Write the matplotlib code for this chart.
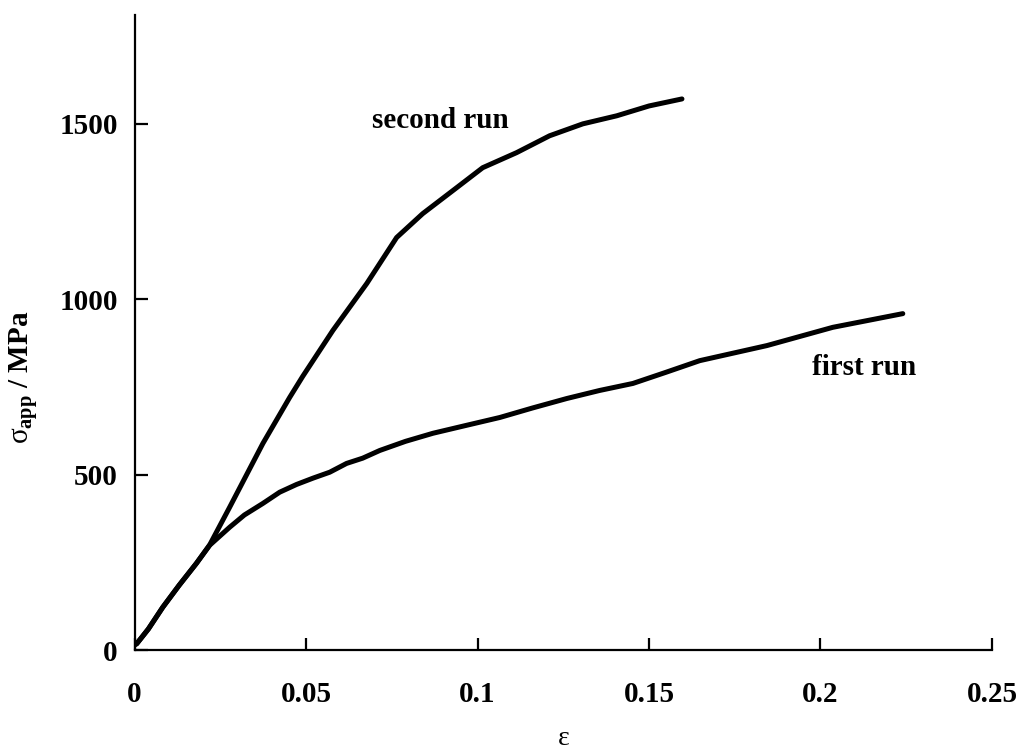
import numpy as np
import matplotlib
matplotlib.use("Agg")
import matplotlib.pyplot as plt

plt.rcParams["font.family"] = ["Liberation Serif", "DejaVu Serif"]
plt.rcParams["mathtext.fontset"] = "custom"
plt.rcParams["mathtext.rm"] = "Liberation Serif"
plt.rcParams["mathtext.it"] = "Liberation Serif"
plt.rcParams["mathtext.bf"] = "Liberation Serif:bold"

# first run: strain / apparent stress (MPa)
first_strain = [0.0, 0.0006, 0.004, 0.0082, 0.013, 0.018, 0.0219, 0.0277, 0.032,
                0.0374, 0.0423, 0.0472, 0.052, 0.0569, 0.0618, 0.0665, 0.0715,
                0.079, 0.087, 0.0965, 0.1065, 0.116, 0.126, 0.1356, 0.1453,
                0.155, 0.1648, 0.1844, 0.2036, 0.224]
first_stress = [15, 18, 60, 122, 185, 247, 299, 350, 385,
                418, 450, 472, 490, 507, 532, 547, 569,
                595, 618, 640, 663, 690, 717, 740, 760,
                792, 825, 868, 920, 959]

# second run
second_strain = [0.0, 0.0006, 0.004, 0.0082, 0.013, 0.018, 0.0219, 0.0277, 0.0374,
                 0.0452, 0.049, 0.0578, 0.0677, 0.0764, 0.084, 0.0939, 0.1015,
                 0.1114, 0.121, 0.1307, 0.1406, 0.150, 0.1596]
second_stress = [15, 18, 60, 122, 185, 247, 300, 407, 589,
                 720, 780, 911, 1045, 1176, 1244, 1318, 1375,
                 1418, 1466, 1500, 1523, 1551, 1571]

x_ticks = [0, 0.05, 0.1, 0.15, 0.2, 0.25]
x_labels = ["0", "0.05", "0.1", "0.15", "0.2", "0.25"]
y_ticks = [0, 500, 1000, 1500]

fig = plt.figure(figsize=(10.2, 7.55), dpi=100)
ax = fig.add_axes([0.132, 0.139, 0.8405, 0.841])

for xs, ys in [(first_strain, first_stress), (second_strain, second_stress)]:
    ax.plot(xs, ys, color="black", lw=3.6, solid_capstyle="round",
            solid_joinstyle="round")

ax.set_xlim(0, 0.25)
ax.set_ylim(0, 1810)
ax.spines["top"].set_visible(False)
ax.spines["right"].set_visible(False)
ax.spines["left"].set_linewidth(1.6)
ax.spines["bottom"].set_linewidth(1.6)

ax.set_xticks(x_ticks)
ax.set_xticklabels(x_labels)
ax.set_yticks(y_ticks)
ax.tick_params(direction="in", length=9, width=1.6, labelsize=21)
ax.tick_params(axis="x", pad=22)
ax.tick_params(axis="y", pad=12)
for lab in ax.get_xticklabels() + ax.get_yticklabels():
    lab.set_fontweight("bold")

ax.set_xlabel(r"$\varepsilon$", fontsize=20, labelpad=13)
ax.set_ylabel(r"$\sigma_{\mathbf{app}}$ / MPa", fontsize=21, fontweight="bold")
ax.yaxis.set_label_coords(-0.11, 0.43)

ax.text(0.0893, 1509, "second run", fontsize=21, fontweight="bold", ha="center", va="center")
ax.text(0.2127, 806, "first run", fontsize=21, fontweight="bold", ha="center", va="center")

fig.savefig("out.png", dpi=100)
